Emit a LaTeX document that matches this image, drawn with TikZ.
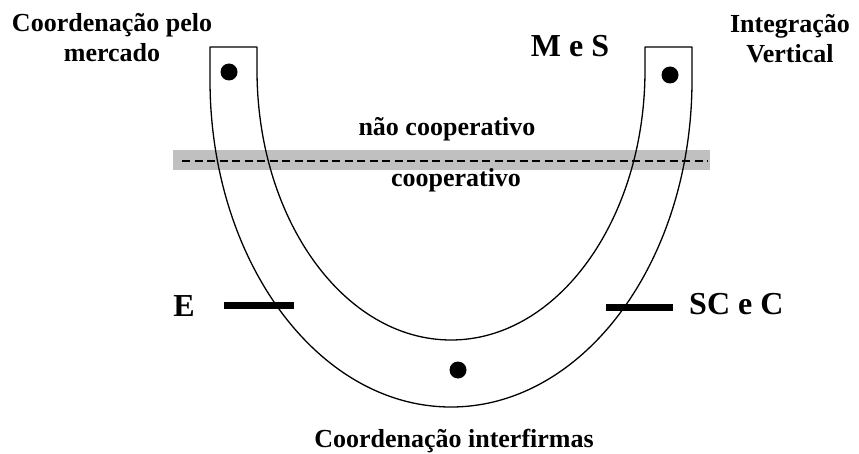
\documentclass[tikz,border=0pt]{standalone}
\usepackage{fontspec}
\setmainfont{Liberation Serif}
\definecolor{bandgray}{RGB}{192,192,192}
\begin{document}
\begin{tikzpicture}[x=1pt,y=1pt,
  lbl/.style={font=\bfseries\fontsize{26}{30}\selectfont, inner sep=0pt, align=center},
  biglbl/.style={font=\bfseries\fontsize{32}{36}\selectfont, inner sep=0pt},
  dot/.style={circle, fill=black, inner sep=0pt, minimum size=17pt},
  tube/.style={draw=black, line width=1.3pt, line join=round},
  bar/.style={line width=7pt}]
\useasboundingbox (0,0) rectangle (859,453);
% band
\fill[bandgray] (173,283) rectangle (710,303);
\draw[line width=1.5pt, dash pattern=on 8pt off 4.5pt] (182,292) -- (708,292);
% U-shaped tube
\draw[tube] (210,406) -- (210,373)
  arc[start angle=180, end angle=360, x radius=241pt, y radius=327pt]
  -- (692,406) -- (645,406) -- (645,383)
  arc[start angle=0, end angle=-180, x radius=194pt, y radius=270pt]
  -- (257,406) -- cycle;
% dots
\node[dot] (d1) at (229,381) {};
\node[dot] (d2) at (670,378) {};
\node[dot] (d3) at (458,83) {};
% bars
\coordinate (e1) at (224,147.5);
\coordinate (e2) at (294,147.5);
\coordinate (s1) at (606,145.5);
\coordinate (s2) at (673,145.5);
\draw[bar] (e1) -- (e2);
\draw[bar] (s1) -- (s2);
% labels
\node[lbl, anchor=base] (mercado) at (112,391) {Coordenação pelo\\mercado};
\node[lbl, anchor=base] (vertical) at (790,390) {Integração\\Vertical};
\node[biglbl, anchor=base] (ms) at (570,396) {M e S};
\node[lbl, anchor=base] (nc) at (447,317) {não cooperativo};
\node[lbl, anchor=base] (c) at (456,266) {cooperativo};
\node[biglbl, anchor=base] (E) at (184,137) {E};
\node[biglbl, anchor=base west] (scc) at (689,139) {SC e C};
\node[lbl, anchor=base] (inter) at (454,6) {Coordenação interfirmas};
\end{tikzpicture}
\end{document}
